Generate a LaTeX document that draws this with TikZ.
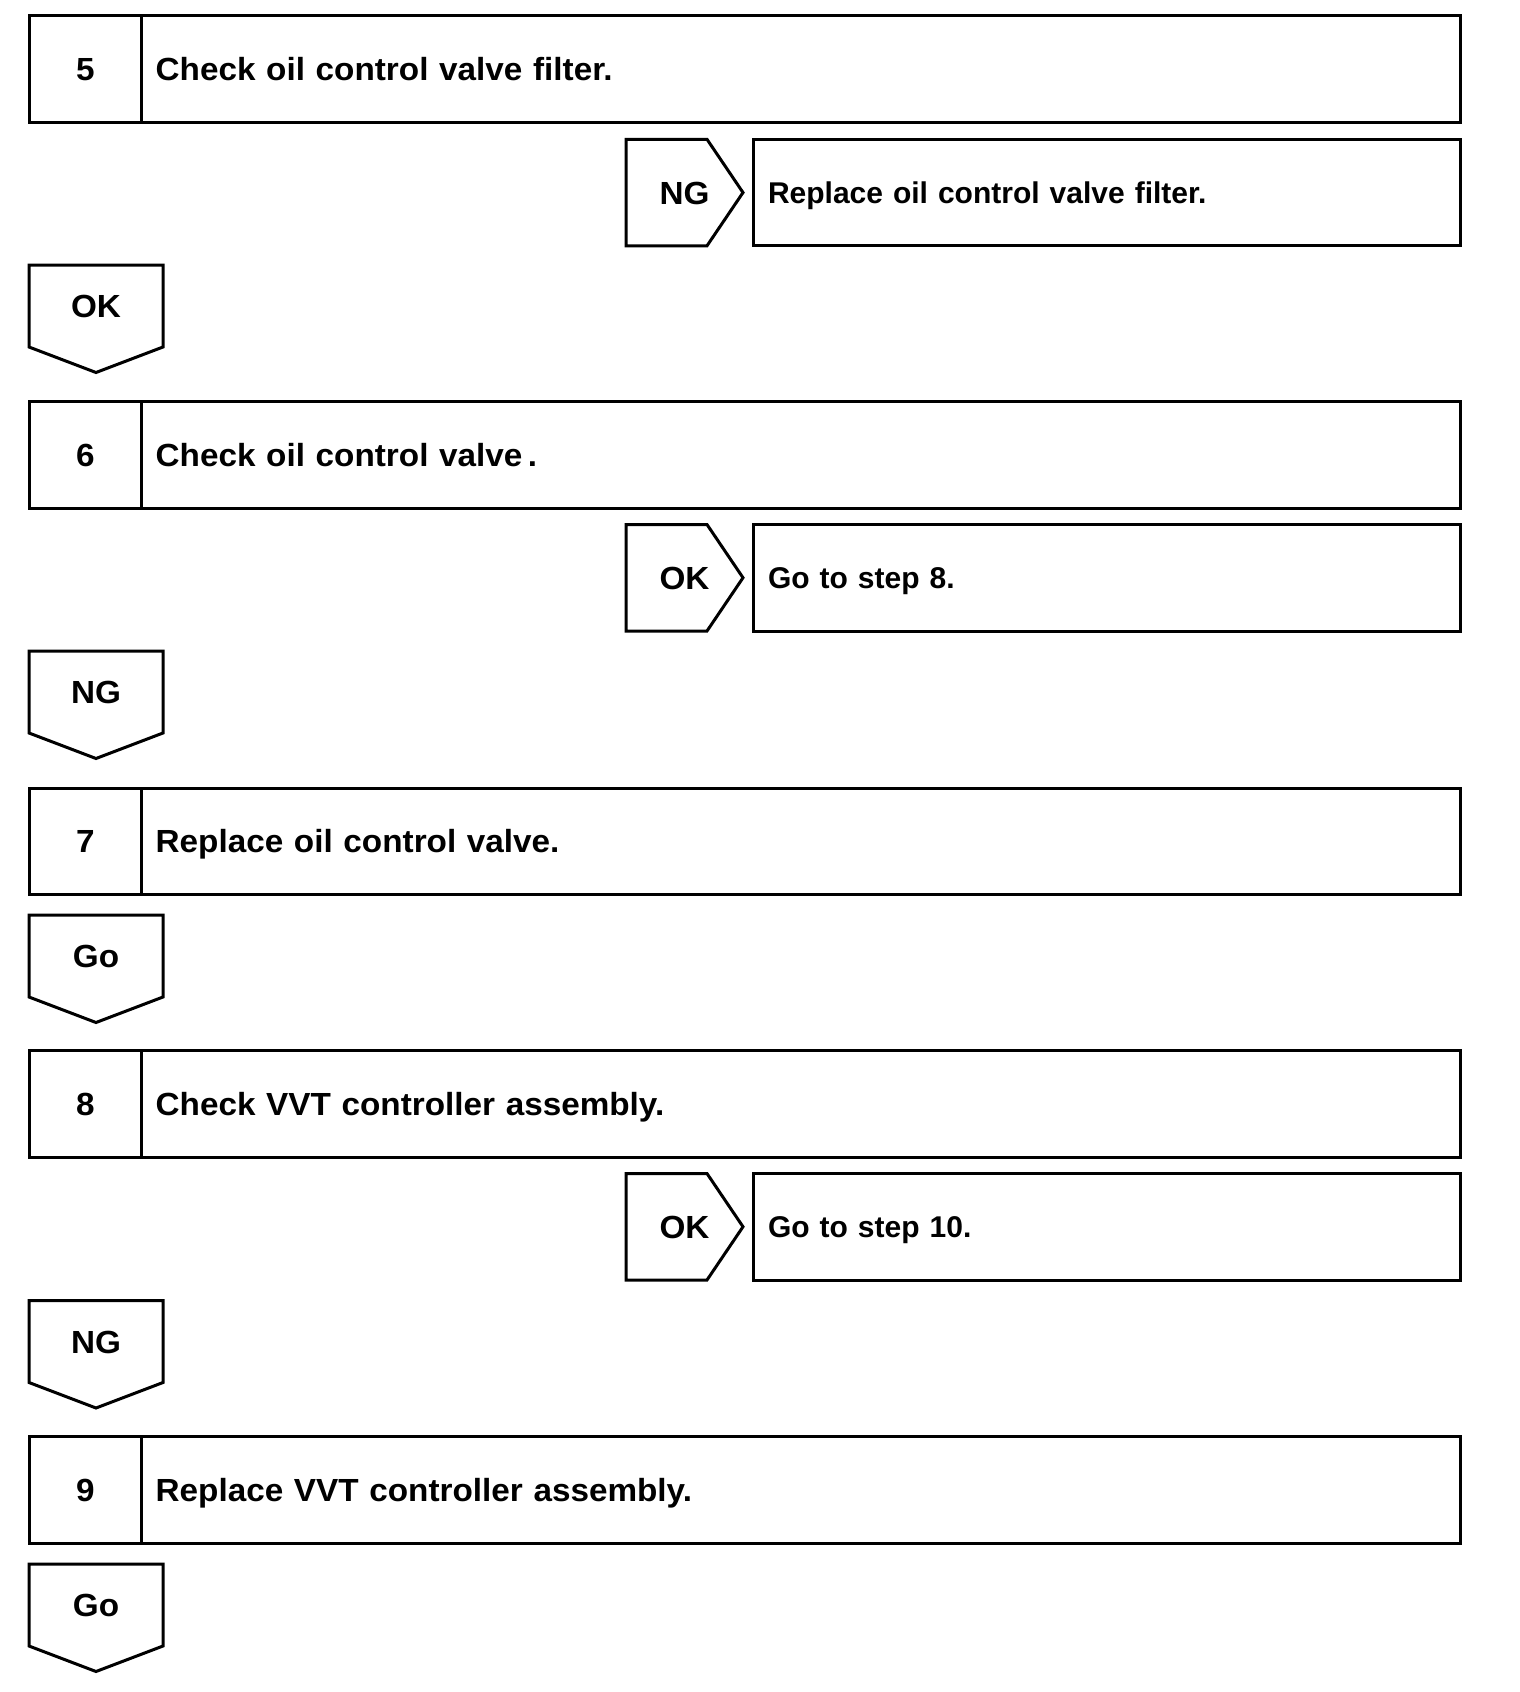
\documentclass[tikz,border=0pt]{standalone}
\usepackage{fontspec}
\newfontfamily\chartfont{Liberation Sans}[FakeStretch=1.04]
\newfontfamily\resultfont{Liberation Sans}
\usetikzlibrary{positioning, calc}

\begin{document}
\begin{tikzpicture}[x=1pt, y=-1pt, line width=3pt,
  font={\chartfont\fontsize{32}{38}\selectfont\bfseries},
  every node/.append style={outer sep=0pt, text height=23, text depth=0},
  num/.style={draw, anchor=north west, minimum width=112.7, minimum height=106.5, inner sep=0},
  stepbox/.style={draw, right=0 of #1, minimum height=106.5, text width=1290.3,
                  inner xsep=14, align=left},
  result/.style={draw, right=10 of #1, minimum height=106.5, text width=677,
                 inner xsep=15, align=left, text height=21.5,
                 font={\resultfont\fontsize{30}{36}\selectfont\bfseries}},
  rtag/.style={anchor=north west, minimum width=117, minimum height=106.5, inner sep=0},
  dtag/.style={anchor=north west, minimum width=134, minimum height=82, inner sep=0}]
  \useasboundingbox (0,0) rectangle (1520,1692);

  % step 5
  \node[num] (n5) at (29,15.5) {5};
  \node[stepbox=n5] (s5) {Check oil control valve filter.};
  \node[rtag] (t5) at (626,139.3) {NG};
  \node[result=t5] (r5) {Replace oil control valve filter.};
  \node[dtag] (d5) at (29,265) {OK};

  % step 6
  \node[num] (n6) at (29,401.7) {6};
  \node[stepbox=n6] (s6) {Check oil control valve\,.};
  \node[rtag] (t6) at (626,524.5) {OK};
  \node[result=t6] (r6) {Go to step 8.};
  \node[dtag] (d6) at (29,651) {NG};

  % step 7
  \node[num] (n7) at (29,788) {7};
  \node[stepbox=n7] (s7) {Replace oil control valve.};
  \node[dtag] (d7) at (29,915) {Go};

  % step 8
  \node[num] (n8) at (29,1050.5) {8};
  \node[stepbox=n8] (s8) {Check VVT controller assembly.};
  \node[rtag] (t8) at (626,1173.5) {OK};
  \node[result=t8] (r8) {Go to step 10.};
  \node[dtag] (d8) at (29,1300.5) {NG};

  % step 9
  \node[num] (n9) at (29,1436.7) {9};
  \node[stepbox=n9] (s9) {Replace VVT controller assembly.};
  \node[dtag] (d9) at (29,1564) {Go};

  % tag outlines
  \draw (t5.north west) -- ([xshift=-36]t5.north east) -- (t5.east) -- ([xshift=-36]t5.south east) -- (t5.south west) -- cycle;
  \draw (t6.north west) -- ([xshift=-36]t6.north east) -- (t6.east) -- ([xshift=-36]t6.south east) -- (t6.south west) -- cycle;
  \draw (t8.north west) -- ([xshift=-36]t8.north east) -- (t8.east) -- ([xshift=-36]t8.south east) -- (t8.south west) -- cycle;
  \draw (d5.south west) -- (d5.north west) -- (d5.north east) -- (d5.south east) -- ([yshift=-25.5]d5.south) -- cycle;
  \draw (d6.south west) -- (d6.north west) -- (d6.north east) -- (d6.south east) -- ([yshift=-25.5]d6.south) -- cycle;
  \draw (d7.south west) -- (d7.north west) -- (d7.north east) -- (d7.south east) -- ([yshift=-25.5]d7.south) -- cycle;
  \draw (d8.south west) -- (d8.north west) -- (d8.north east) -- (d8.south east) -- ([yshift=-25.5]d8.south) -- cycle;
  \draw (d9.south west) -- (d9.north west) -- (d9.north east) -- (d9.south east) -- ([yshift=-25.5]d9.south) -- cycle;
\end{tikzpicture}
\end{document}
